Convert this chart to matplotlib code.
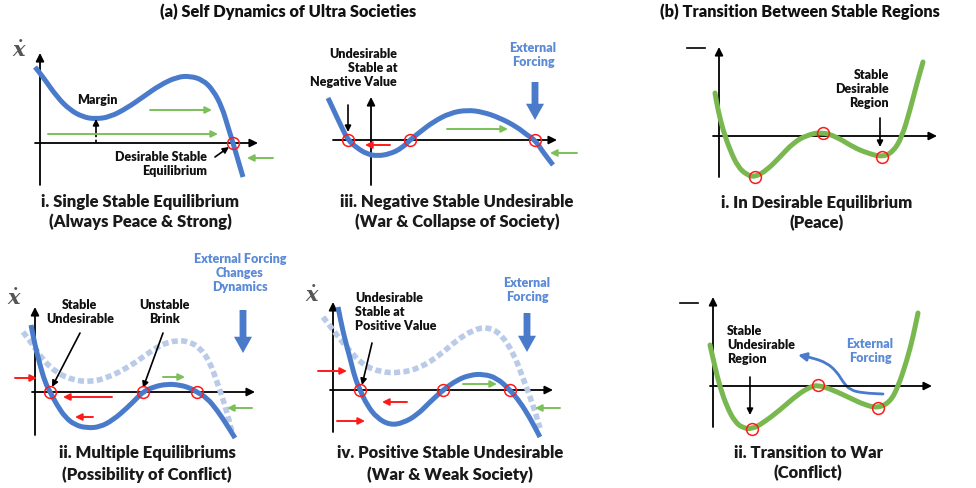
import matplotlib
matplotlib.use('Agg')
import matplotlib.pyplot as plt
from matplotlib.patches import FancyArrowPatch, PathPatch
from matplotlib.path import Path

W, H = 976, 488
plt.rcParams['font.family'] = ['Lato', 'DejaVu Sans']
plt.rcParams['font.weight'] = 'heavy'
plt.rcParams['mathtext.fontset'] = 'dejavuserif'

BLUE = '#4a7bcb'
LBLUE = '#b9cbe8'
GREEN = '#79b84f'
GARROW = '#7cc05a'
RED = '#ff1a1a'
TXTBLUE = '#5b8ad6'

# ---------------- data (relative to each panel's axis origin, y up) -------------
# (a-i) Single stable equilibrium
curve_i_x = [-5, 3, 17, 30, 43, 55, 70, 87, 103, 120, 137, 150, 163, 173, 182, 188, 193, 198, 203]
curve_i_y = [76, 66, 46, 33, 26, 24, 26, 35, 46, 58, 66, 67, 63, 53, 36, 16, 0, -17, -34]
eq_i = [193]

# (a-iii) Negative stable undesirable
curve_iii_x = [-43, -36, -29, -23, -14, -4, 6, 19, 31, 39, 49, 62, 79, 96, 112, 129, 146, 156, 164, 172, 182]
curve_iii_y = [42, 27, 12, 0, -8, -14, -16, -14, -8, 0, 8, 18, 27, 30, 28, 22, 13, 5, 0, -12, -25]
eq_iii = [-23, 39, 164]

# (a-ii) Multiple equilibriums
curve_ii_x = [-4, 0, 5, 10, 15, 22, 30, 40, 52, 65, 78, 92, 102, 108, 118, 132, 145, 155, 162, 172, 182, 192, 200]
curve_ii_y = [67, 47, 27, 10, 0, -13, -25, -33, -36, -35, -28, -16, -6, 0, 5, 8, 7, 4, 0, -6, -18, -33, -46]
orig_ii_x = [-12, -2, 8, 22, 38, 55, 72, 92, 108, 125, 142, 155, 165, 175, 183, 190, 197]
orig_ii_y = [60, 47, 32, 19, 12, 10, 14, 24, 35, 47, 52, 50, 44, 30, 7, -13, -40]
eq_ii = [15, 108, 162]

# (a-iv) Positive stable undesirable
curve_iv_x = [5, 10, 17, 22, 27, 34, 44, 57, 70, 84, 97, 110, 124, 137, 150, 164, 177, 187, 197, 207]
curve_iv_y = [83, 58, 32, 12, 0, -15, -28, -35, -33, -25, -12, 0, 10, 15, 16, 12, 0, -12, -28, -47]
orig_iv_x = [-10, 0, 14, 30, 47, 67, 87, 107, 124, 140, 154, 167, 180, 190, 200, 207]
orig_iv_y = [73, 60, 42, 25, 18, 17, 22, 35, 50, 60, 63, 57, 38, 12, -15, -38]
eq_iv = [27, 110, 177]

# (b-i) In desirable equilibrium (potential)
pot_i_x = [-4, -1, 4, 11, 19, 28, 36, 48, 61, 74, 88, 103, 118, 134, 148, 163, 174, 183, 191, 198, 204]
pot_i_y = [43, 26, 6, -14, -31, -39, -41, -34, -21, -7, 1, 4, -1, -11, -17, -21, -16, -1, 26, 53, 74]
pot_i_eq_x = [36, 104, 163]
pot_i_eq_y = [-41, 3, -21]

# (b-ii) Transition to war (potential)
pot_ii_x = [-3, 2, 7, 14, 22, 30, 39, 50, 67, 84, 97, 105, 120, 137, 152, 165, 177, 185, 194, 200, 205]
pot_ii_y = [41, 19, -1, -21, -36, -42, -43, -37, -24, -9, -1, 1, -4, -12, -19, -22, -16, -1, 26, 49, 73]
pot_ii_eq_x = [39, 105, 165]
pot_ii_eq_y = [-43, 1, -22]
forcing_ii_x = [170, 150, 137, 130, 124, 114, 100, 85]
forcing_ii_y = [-8, -7, -4, 4, 14, 23, 28, 31]

captions = {
    'i': ('i. Single Stable Equilibrium', '(Always Peace & Strong)'),
    'ii': ('ii. Multiple Equilibriums', '(Possibility of Conflict)'),
    'iii': ('iii. Negative Stable Undesirable', '(War & Collapse of Society)'),
    'iv': ('iv. Positive Stable Undesirable', '(War & Weak Society)'),
    'bi': ('i. In Desirable Equilibrium', '(Peace)'),
    'bii': ('ii. Transition to War', '(Conflict)'),
}

# ---------------- figure ----------------
fig = plt.figure(figsize=(W / 100, H / 100), dpi=100)
fig.patch.set_facecolor('white')


def panel(ox, oy, x0, x1, y0, y1):
    left = (ox + x0) / W
    right = (ox + x1) / W
    bottom = (H - (oy - y0)) / H
    top = (H - (oy - y1)) / H
    ax = fig.add_axes([left, bottom, right - left, top - bottom])
    ax.set_xlim(x0, x1)
    ax.set_ylim(y0, y1)
    ax.axis('off')
    ax.patch.set_alpha(0)
    return ax


def smooth_path(xs, ys):
    # quadratic Bezier rendering through the midpoints of the read points
    pts = list(zip(xs, ys))
    verts = [pts[0]]
    codes = [Path.MOVETO]
    mid = lambda a, b: ((a[0] + b[0]) / 2, (a[1] + b[1]) / 2)
    verts.append(mid(pts[0], pts[1]))
    codes.append(Path.LINETO)
    for k in range(1, len(pts) - 1):
        verts += [pts[k], mid(pts[k], pts[k + 1])]
        codes += [Path.CURVE3, Path.CURVE3]
    verts.append(pts[-1])
    codes.append(Path.LINETO)
    return Path(verts, codes)


def curve(ax, xs, ys, color, lw=3.6, ls='-', cap='butt'):
    p = PathPatch(smooth_path(xs, ys), fill=False, edgecolor=color, lw=lw, ls=ls,
                  capstyle=cap, joinstyle='round', clip_on=False, zorder=3)
    ax.add_patch(p)


def arrow(ax, start, end, color='black', lw=1.2, ms=10, style='-|>'):
    ax.annotate('', xy=end, xytext=start, annotation_clip=False,
                arrowprops=dict(arrowstyle=style, color=color, lw=lw,
                                mutation_scale=ms, shrinkA=0, shrinkB=0))


def big_arrow(ax, start, end):
    ax.annotate('', xy=end, xytext=start, annotation_clip=False,
                arrowprops=dict(arrowstyle='simple,head_length=0.9,head_width=1.0,tail_width=0.38',
                                color=BLUE, mutation_scale=13, shrinkA=0, shrinkB=0, lw=0))


def axes_lines(ax, xl, xr, yb, yt):
    arrow(ax, (xl, 0), (xr, 0), lw=1.3, ms=12)
    arrow(ax, (0, yb), (0, yt), lw=1.3, ms=12)


def circles(ax, xs, ys):
    ax.plot(xs, ys, 'o', ms=8.5, mfc='none', mec=RED, mew=1.1, clip_on=False, zorder=5)


def caption(ax, x, y, key, dy=20):
    l1, l2 = captions[key]
    ax.text(x, y, l1, ha='center', va='center', fontsize=12, color='#1a1a1a')
    ax.text(x, y - dy, l2, ha='center', va='center', fontsize=12, color='#1a1a1a')


def label(ax, x, y, s, ha='center', color='#111111', fs=9):
    ax.text(x, y, s, ha=ha, va='center', fontsize=fs, color=color, multialignment=ha,
            linespacing=1.2)


def xdot(ax, x, y):
    ax.text(x, y, r'$\dot{x}$', ha='center', va='center', fontsize=15, color='#555555')


# titles
fig.text(288 / W, 1 - 12 / H, '(a) Self Dynamics of Ultra Societies', ha='center', va='center',
         fontsize=11.8, color='#111111')
fig.text(800 / W, 1 - 12 / H, '(b) Transition Between Stable Regions', ha='center', va='center',
         fontsize=11.8, color='#111111')

# ---- panel a-i ----
ax = panel(40, 143, -40, 250, -100, 110)
axes_lines(ax, -5, 218, -42, 90)
curve(ax, curve_i_x, curve_i_y, BLUE)
circles(ax, eq_i, [0] * len(eq_i))
xdot(ax, -20, 93)
label(ax, 57, 43, 'Margin')
ax.plot([56, 56], [0, 10], color='black', lw=1.2, ls=(0, (2, 1.5)))
arrow(ax, (56, 10), (56, 24), ms=9)
arrow(ax, (110, 33), (172, 33), color=GARROW, lw=1.4)
arrow(ax, (8, 9), (178, 9), color=GARROW, lw=1.4)
arrow(ax, (233, -15), (207, -15), color=GARROW, lw=1.4)
label(ax, 167, -21, 'Desirable Stable\nEquilibrium', ha='right')
arrow(ax, (175, -14), (189, -4), ms=9)
caption(ax, 100, -59, 'i')

# ---- panel a-iii ----
ax = panel(371, 140, -60, 230, -100, 115)
axes_lines(ax, -38, 186, -45, 43)
curve(ax, curve_iii_x, curve_iii_y, BLUE)
circles(ax, eq_iii, [0] * len(eq_iii))
label(ax, 26, 72, 'Undesirable\nStable at\nNegative Value', ha='right')
arrow(ax, (-23, 35), (-23, 8), ms=9)
arrow(ax, (19, -5), (-6, -5), color=RED, lw=1.4)
arrow(ax, (76, 11), (137, 11), color=GARROW, lw=1.4)
arrow(ax, (206, -13), (179, -13), color=GARROW, lw=1.4)
label(ax, 162, 85, 'External\nForcing', color=TXTBLUE)
big_arrow(ax, (164, 58), (164, 20))
caption(ax, 86, -62, 'iii')

# ---- panel a-ii ----
ax = panel(35, 392, -35, 250, -96, 145)
axes_lines(ax, -3, 220, -43, 85)
curve(ax, orig_ii_x, orig_ii_y, LBLUE, lw=4, ls=(0, (1.1, 0.6)))
curve(ax, curve_ii_x, curve_ii_y, BLUE)
circles(ax, eq_ii, [0] * len(eq_ii))
xdot(ax, -20, 94)
label(ax, 45, 80, 'Stable\nUndesirable')
arrow(ax, (45, 59), (17, 5), ms=9)
label(ax, 130, 80, 'Unstable\nBrink')
arrow(ax, (128, 59), (108, 4), ms=9)
label(ax, 205, 119, 'External Forcing\nChanges\nDynamics', color=TXTBLUE)
big_arrow(ax, (208, 82), (208, 39))
arrow(ax, (-20, 14), (2, 14), color=RED, lw=1.4)
arrow(ax, (77, -5), (28, -5), color=RED, lw=1.4)
arrow(ax, (58, -25), (40, -25), color=RED, lw=1.4)
arrow(ax, (128, 15), (150, 15), color=GARROW, lw=1.4)
arrow(ax, (217, -16), (192, -16), color=GARROW, lw=1.4)
caption(ax, 112, -61, 'ii', dy=22)

# ---- panel a-iv ----
ax = panel(333, 390, -35, 250, -96, 145)
axes_lines(ax, -3, 220, -42, 88)
curve(ax, orig_iv_x, orig_iv_y, LBLUE, lw=4, ls=(0, (1.1, 0.6)))
curve(ax, curve_iv_x, curve_iv_y, BLUE)
circles(ax, eq_iv, [0] * len(eq_iv))
xdot(ax, -20, 95)
label(ax, 22, 78, 'Undesirable\nStable at\nPositive Value', ha='left')
arrow(ax, (39, 47), (29, 5), ms=9)
label(ax, 194, 100, 'External\nForcing', color=TXTBLUE)
big_arrow(ax, (194, 77), (194, 38))
arrow(ax, (-15, 19), (14, 19), color=RED, lw=1.4)
arrow(ax, (74, -12), (49, -12), color=RED, lw=1.4)
arrow(ax, (4, -31), (32, -31), color=RED, lw=1.4)
arrow(ax, (130, 6), (164, 6), color=GARROW, lw=1.4)
arrow(ax, (227, -18), (202, -18), color=GARROW, lw=1.4)
caption(ax, 117, -63, 'iv', dy=22)

# ---- panel b-i ----
ax = panel(719, 136, -40, 250, -100, 100)
axes_lines(ax, -6, 218, -41, 89)
curve(ax, pot_i_x, pot_i_y, GREEN, cap='round')
circles(ax, pot_i_eq_x, pot_i_eq_y)
ax.plot([-32, -14], [88, 88], color='black', lw=1.2)
label(ax, 170, 47, 'Stable\nDesirable\nRegion', ha='right')
arrow(ax, (161, 18), (161, -11), ms=9)
caption(ax, 98, -67, 'bi')

# ---- panel b-ii ----
ax = panel(713, 386, -40, 250, -100, 100)
axes_lines(ax, -3, 219, -41, 89)
curve(ax, pot_ii_x, pot_ii_y, GREEN, cap='round')
circles(ax, pot_ii_eq_x, pot_ii_eq_y)
ax.plot([-33, -15], [83, 83], color='black', lw=1.2)
label(ax, 14, 41, 'Stable\nUndesirable\nRegion', ha='left')
arrow(ax, (37, 9), (37, -29), ms=9)
label(ax, 157, 35, 'External\nForcing', color=TXTBLUE)
fpath = smooth_path(forcing_ii_x, forcing_ii_y)
fa = FancyArrowPatch(path=fpath, arrowstyle='-|>', mutation_scale=12, color=BLUE, lw=2.0,
                     transform=ax.transData, clip_on=False)
ax.add_patch(fa)
caption(ax, 95, -67, 'bii')

fig.savefig('out.png', dpi=100, facecolor='white')
